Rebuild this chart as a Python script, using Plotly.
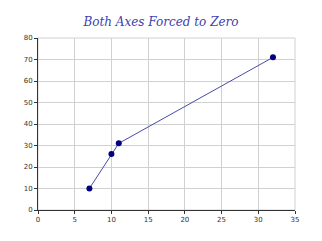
import plotly.graph_objects as go

x_vals = [7, 10, 11, 32]
y_vals = [10, 26, 31, 71]
title_text = "Both Axes Forced to Zero"

fig = go.Figure()
fig.add_trace(go.Scatter(
    x=x_vals, y=y_vals, mode="lines+markers",
    line=dict(color="#4a4aaa", width=1),
    marker=dict(color="#000080", size=6),
))
fig.add_shape(type="rect", xref="paper", yref="paper", x0=0, y0=0, x1=1, y1=1,
              line=dict(color="#d0d0d0", width=1), layer="below")
fig.update_layout(
    width=322, height=241,
    margin=dict(l=38, r=27, t=38, b=31),
    paper_bgcolor="white", plot_bgcolor="white",
    showlegend=False,
    title=dict(text=title_text, x=0.5, xanchor="center", y=0.91, yanchor="middle",
               font=dict(family="DejaVu Serif", size=12, color="#4040b0", style="italic")),
    xaxis=dict(range=[0, 35], dtick=5, showgrid=True, gridcolor="#d0d0d0", gridwidth=1,
               showline=True, linecolor="#333333", linewidth=1, mirror=False,
               ticks="outside", ticklen=3, tickcolor="#333333", zeroline=False,
               tickfont=dict(family="DejaVu Sans", size=7, color="#333333")),
    yaxis=dict(range=[0, 80], dtick=10, showgrid=True, gridcolor="#d0d0d0", gridwidth=1,
               showline=True, linecolor="#333333", linewidth=1,
               ticks="outside", ticklen=3, tickcolor="#333333", zeroline=False,
               tickfont=dict(family="DejaVu Sans", size=7, color="#333333")),
)
fig.write_html("out.html")
